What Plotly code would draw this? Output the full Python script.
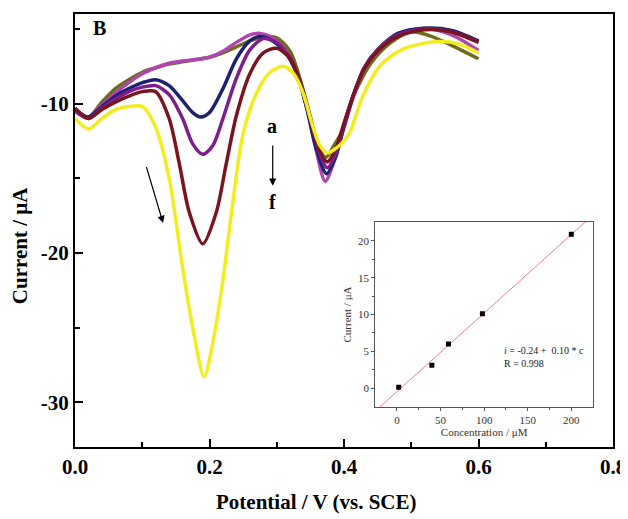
import plotly.graph_objects as go
import numpy as np

# DPV curves a-f : potential (V) and current (uA)
pot_a = [0.00, 0.02, 0.04, 0.06, 0.08, 0.10, 0.12, 0.14, 0.16, 0.18, 0.20, 0.22, 0.24, 0.26, 0.28, 0.30, 0.32,
         0.335, 0.35, 0.362, 0.373, 0.385, 0.398, 0.413, 0.44, 0.47, 0.50, 0.53, 0.56, 0.60]
cur_a = [-10.4, -10.9, -9.9, -9.0, -8.4, -7.9, -7.6, -7.35, -7.2, -7.05, -6.9, -6.6, -6.2, -5.8, -5.55, -5.6, -6.5,
         -8.4, -10.9, -12.9, -13.6, -12.8, -11.8, -9.6, -7.3, -5.9, -5.2, -5.5, -6.1, -7.0]

pot_b = [0.00, 0.02, 0.04, 0.06, 0.08, 0.10, 0.12, 0.14, 0.16, 0.18, 0.20, 0.22, 0.24, 0.26, 0.275, 0.29, 0.31,
         0.33, 0.345, 0.358, 0.372, 0.386, 0.40, 0.415, 0.43, 0.45, 0.48, 0.52, 0.56, 0.60]
cur_b = [-10.4, -10.9, -10.1, -9.3, -8.6, -8.0, -7.6, -7.3, -7.15, -7.05, -6.9, -6.5, -5.9, -5.4, -5.3, -5.5, -6.3,
         -8.0, -10.3, -13.0, -15.2, -13.8, -11.6, -9.4, -7.7, -6.5, -5.4, -4.95, -5.4, -6.45]

pot_c = [0.00, 0.02, 0.04, 0.06, 0.08, 0.10, 0.12, 0.14, 0.16, 0.175, 0.187, 0.20, 0.22, 0.24, 0.26, 0.275, 0.29,
         0.31, 0.33, 0.345, 0.358, 0.374, 0.388, 0.40, 0.415, 0.43, 0.45, 0.48, 0.52, 0.56, 0.60]
cur_c = [-10.4, -10.9, -10.2, -9.5, -9.0, -8.6, -8.4, -8.8, -9.8, -10.6, -10.9, -10.6, -9.0, -7.0, -5.8, -5.5, -5.7,
         -6.4, -8.0, -10.4, -12.9, -14.7, -13.5, -11.5, -9.3, -7.6, -6.4, -5.3, -4.95, -5.1, -5.8]

pot_d = [0.00, 0.02, 0.04, 0.06, 0.08, 0.10, 0.12, 0.14, 0.16, 0.175, 0.19, 0.205, 0.22, 0.24, 0.26, 0.28, 0.30,
         0.32, 0.335, 0.35, 0.362, 0.375, 0.388, 0.40, 0.415, 0.43, 0.45, 0.48, 0.52, 0.56, 0.60]
cur_d = [-10.5, -11.0, -10.3, -9.7, -9.2, -8.9, -8.8, -9.4, -11.0, -12.7, -13.4, -12.8, -11.0, -8.3, -6.4, -5.65, -5.9,
         -6.9, -8.6, -11.0, -13.1, -14.3, -13.3, -11.4, -9.3, -7.6, -6.4, -5.4, -5.0, -5.2, -5.85]

pot_e = [0.00, 0.02, 0.04, 0.06, 0.08, 0.10, 0.12, 0.14, 0.155, 0.17, 0.19, 0.21, 0.225, 0.24, 0.26, 0.28, 0.30,
         0.32, 0.335, 0.35, 0.362, 0.375, 0.388, 0.40, 0.415, 0.43, 0.45, 0.48, 0.52, 0.56, 0.60]
cur_e = [-10.3, -11.0, -10.4, -9.9, -9.5, -9.2, -9.2, -11.0, -14.0, -17.3, -19.4, -17.3, -14.0, -10.8, -8.0, -6.6, -6.3,
         -7.0, -8.6, -11.0, -13.0, -13.9, -13.0, -11.3, -9.3, -7.7, -6.5, -5.5, -5.05, -5.2, -5.9]

pot_f = [0.00, 0.02, 0.04, 0.06, 0.08, 0.10, 0.12, 0.14, 0.16, 0.175, 0.192, 0.205, 0.22, 0.235, 0.25, 0.27, 0.29,
         0.31, 0.325, 0.34, 0.352, 0.364, 0.375, 0.388, 0.40, 0.41, 0.427, 0.455, 0.49, 0.54, 0.57, 0.60]
cur_f = [-11.0, -11.7, -11.0, -10.4, -10.2, -10.2, -11.6, -15.0, -21.0, -25.0, -28.3, -26.0, -21.8, -16.5, -12.0, -9.3,
         -7.9, -7.5, -8.0, -9.4, -11.3, -12.8, -13.3, -13.0, -12.5, -11.8, -9.6, -7.4, -6.3, -5.85, -6.0, -6.6]

# calibration inset
conc = [2, 40, 59, 98, 200]
peak_current = [0.1, 3.1, 6.0, 10.1, 20.9]

curves = [
    (pot_a, cur_a, '#6E6B1C'),
    (pot_b, cur_b, '#B046B0'),
    (pot_c, cur_c, '#1E2070'),
    (pot_d, cur_d, '#7D1E8C'),
    (pot_e, cur_e, '#7A1520'),
    (pot_f, cur_f, '#F2EE1E'),
]

SERIF = 'Liberation Serif, Times New Roman, serif'

fig = go.Figure()

for pot, cur, col in curves:
    fig.add_trace(go.Scatter(x=pot, y=cur, mode='lines',
                             line=dict(color=col, width=3.5, shape='spline', smoothing=0.8),
                             showlegend=False, xaxis='x', yaxis='y'))

# inset: fit line + points
slope, icpt = np.polyfit(conc, peak_current, 1)
c_rng = [-25, 225]
fig.add_trace(go.Scatter(x=c_rng, y=[icpt + slope * c for c in c_rng], mode='lines',
                         line=dict(color='#F08080', width=1), showlegend=False,
                         xaxis='x2', yaxis='y2'))
fig.add_trace(go.Scatter(x=conc, y=peak_current, mode='markers',
                         marker=dict(symbol='square', size=5, color='black'),
                         showlegend=False, xaxis='x2', yaxis='y2'))

main_tick_font = dict(family=SERIF, size=21, color='black')
inset_font = dict(family=SERIF, size=11, color='#333')

# page body has an 8px margin, so the figure is sized to fill the rest of the window
fig.update_layout(
    width=620, height=511,
    margin=dict(l=67, r=15, t=6, b=72),
    paper_bgcolor='white', plot_bgcolor='white',
    xaxis=dict(range=[0, 0.8], tickvals=[0, 0.2, 0.4, 0.6, 0.8],
               ticktext=['<b>0.0</b>', '<b>0.2</b>', '<b>0.4</b>', '<b>0.6</b>', '<b>0.8</b>'],
               ticks='inside', ticklen=8, tickwidth=2, tickcolor='black',
               minor=dict(tickvals=[0.1, 0.3, 0.5, 0.7], ticks='inside', ticklen=5, tickwidth=2, tickcolor='black'),
               showline=True, linewidth=2, linecolor='black', mirror=True, automargin=False,
               showgrid=False, zeroline=False, tickfont=main_tick_font),
    yaxis=dict(range=[-33, -4], tickvals=[-30, -20, -10],
               ticktext=['<b>-30</b>', '<b>-20</b>', '<b>-10</b>'],
               ticks='inside', ticklen=8, tickwidth=2, tickcolor='black',
               minor=dict(tickvals=[-25, -15, -5], ticks='inside', ticklen=5, tickwidth=2, tickcolor='black'),
               showline=True, linewidth=2, linecolor='black', mirror=True, automargin=False,
               showgrid=False, zeroline=False, tickfont=main_tick_font),
    xaxis2=dict(domain=[0.558, 0.963], anchor='y2', range=[-25, 225],
                tickvals=[0, 50, 100, 150, 200], ticks='outside', ticklen=3, tickcolor='#555',
                minor=dict(tickvals=[25, 75, 125, 175], ticks='outside', ticklen=2, tickcolor='#555'),
                showline=True, linewidth=1, linecolor='#555', mirror=True, automargin=False,
                showgrid=False, zeroline=False, tickfont=inset_font,
                title=dict(text='Concentration / μM', font=inset_font, standoff=2)),
    yaxis2=dict(domain=[0.092, 0.520], anchor='x2', range=[-2.6, 22.6],
                tickvals=[0, 5, 10, 15, 20], ticks='outside', ticklen=3, tickcolor='#555',
                minor=dict(tickvals=[2.5, 7.5, 12.5, 17.5], ticks='outside', ticklen=2, tickcolor='#555'),
                showline=True, linewidth=1, linecolor='#555', mirror=True, automargin=False,
                showgrid=False, zeroline=False, tickfont=inset_font,
                title=dict(text='Current / μA', font=inset_font, standoff=4)),
)

# axis titles placed as annotations
fig.add_annotation(text='<b>Potential / V (vs. SCE)</b>', xref='paper', yref='paper', x=0.448, y=-0.127,
                   showarrow=False, font=dict(family=SERIF, size=21, color='black'),
                   xanchor='center', yanchor='middle')
fig.add_annotation(text='<b>Current / μA</b>', xref='paper', yref='paper', x=-0.102, y=0.464,
                   showarrow=False, textangle=-90, font=dict(family=SERIF, size=21, color='black'),
                   xanchor='center', yanchor='middle')

# panel letter and a/f labels
fig.add_annotation(text='<b>B</b>', xref='paper', yref='paper', x=0.045, y=0.968,
                   xanchor='center', yanchor='middle',
                   showarrow=False, font=dict(family=SERIF, size=20, color='black'))
fig.add_annotation(text='<b>a</b>', x=0.293, y=-11.5, showarrow=False,
                   xanchor='center', yanchor='middle',
                   font=dict(family=SERIF, size=20, color='black'))
fig.add_annotation(text='<b>f</b>', x=0.294, y=-16.6, showarrow=False,
                   xanchor='center', yanchor='middle',
                   font=dict(family=SERIF, size=20, color='black'))

# arrows
fig.add_annotation(x=0.294, y=-15.5, ax=0.294, ay=-12.7, axref='x', ayref='y', xref='x', yref='y',
                   showarrow=True, arrowhead=2, arrowsize=1.2, arrowwidth=1.2, arrowcolor='black', text='')
fig.add_annotation(x=0.131, y=-18.0, ax=0.1056, ay=-14.15, axref='x', ayref='y', xref='x', yref='y',
                   showarrow=True, arrowhead=2, arrowsize=1.2, arrowwidth=1.2, arrowcolor='black', text='')

# fit equation in inset
fig.add_annotation(text='<i>i</i> = -0.24 +  0.10 * c<br>R = 0.998', xref='x2', yref='y2',
                   x=120, y=4.2, xanchor='left', yanchor='middle', align='left', showarrow=False,
                   font=dict(family=SERIF, size=10, color='#222'))

fig.write_html("out.html")
